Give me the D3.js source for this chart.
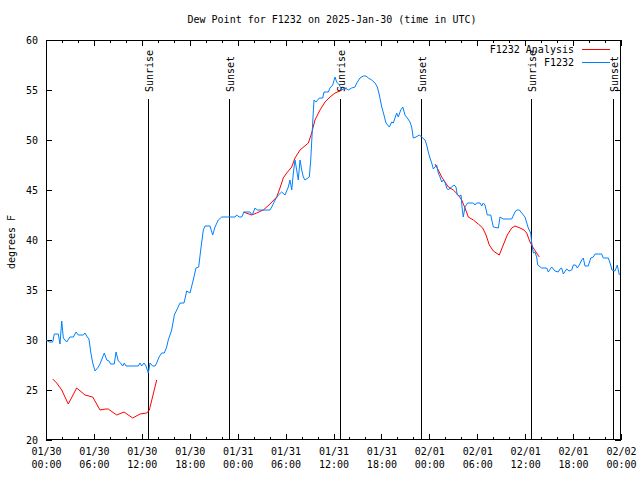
<!DOCTYPE html>
<html><head><meta charset="utf-8">
<script src="https://cdn.jsdelivr.net/npm/d3@7"></script>
<style>
html,body{margin:0;padding:0;background:#fff;}
svg{display:block;}
text{font-family:"DejaVu Sans Mono","Liberation Mono",monospace;font-size:10px;fill:#000;}
</style></head>
<body>
<svg id="chart" width="640" height="480"></svg>
<script>
// ---- data ----
const titleText = "Dew Point for F1232 on 2025-Jan-30 (time in UTC)";
const yLabel = "degrees F";
const startDate = "2025-01-30T00:00:00Z";
const spanHours = 72;
const yTicks = [20, 25, 30, 35, 40, 45, 50, 55, 60];
const majorTickHours = [0, 6, 12, 18, 24, 30, 36, 42, 48, 54, 60, 66, 72];
const minorTickHours = [2, 4, 8, 10, 14, 16, 20, 22, 26, 28, 32, 34, 38, 40, 44, 46, 50, 52, 56, 58, 62, 64, 68, 70];
const seriesNames = ["F1232 Analysis", "F1232"];
const seriesColors = ["#ff0000", "#0080ff"];

// observed (hours since start, deg F)
const obsHours = [0.0,0.41,0.84,1.04,1.54,1.75,1.97,2.17,2.59,3.0,3.42,3.76,4.04,4.67,4.88,5.17,5.38,5.6,5.85,6.14,6.55,6.76,7.05,7.3,7.6,7.89,8.1,8.55,8.77,9.05,9.35,9.6,9.8,10.02,11.56,11.77,11.98,12.27,12.52,12.81,13.02,13.36,13.65,13.86,14.15,14.49,14.81,15.11,15.31,15.74,16.07,16.37,16.78,17.28,17.62,18.03,18.44,18.78,19.12,19.37,19.7,19.91,20.54,20.87,21.16,21.58,22.0,23.67,23.88,24.17,24.51,24.79,25.54,25.83,26.17,26.46,28.05,28.39,28.68,29.09,29.51,29.93,30.34,30.55,30.77,30.97,31.18,31.39,31.59,31.81,32.02,32.22,32.43,32.97,33.15,33.4,33.56,33.81,34.22,34.65,34.81,35.35,35.56,35.9,36.19,36.4,36.73,37.03,37.44,37.85,38.28,38.69,38.91,39.32,39.73,40.07,40.36,40.78,41.2,41.49,41.74,42.04,42.32,42.57,42.99,43.29,43.49,43.7,43.91,44.11,44.42,44.67,44.95,45.24,45.58,45.79,45.99,46.33,46.74,47.04,47.46,47.67,47.87,48.08,48.3,48.5,48.71,48.92,49.12,49.34,49.55,49.75,49.96,50.17,50.38,50.59,50.8,51.09,51.34,51.5,51.75,51.97,52.09,52.25,52.47,52.8,53.51,53.72,53.93,54.35,54.56,54.76,54.97,55.26,55.69,56.01,56.64,56.85,57.26,58.31,58.73,58.94,59.27,59.57,59.98,60.39,60.69,60.82,61.02,61.23,61.44,61.57,62.07,62.7,62.9,63.32,63.74,64.15,64.36,64.57,64.78,65.2,65.49,65.83,66.03,66.3,66.53,66.78,67.08,67.28,67.49,67.9,68.21,68.53,68.75,69.58,69.78,70.41,70.71,70.87,71.25,71.54,71.79];
const obsValues = [30.0,29.8,29.8,30.6,30.6,29.6,31.9,30.2,29.8,30.3,30.3,30.8,30.5,30.5,30.7,30.3,30.1,28.8,27.7,26.9,27.3,27.6,28.2,28.7,28.0,27.9,27.6,27.6,28.8,27.9,27.7,27.4,27.7,27.4,27.4,27.7,27.4,27.7,27.4,26.7,27.7,27.4,27.4,27.7,28.3,28.7,28.7,29.3,30.0,31.0,32.5,33.0,33.7,33.7,34.9,34.7,36.0,37.2,37.3,39.0,41.0,41.4,41.4,40.5,41.3,42.0,42.3,42.3,42.5,42.3,42.3,42.8,42.8,42.5,43.2,43.0,43.0,43.5,44.0,44.5,44.8,44.5,45.3,46.0,45.0,46.7,48.0,47.0,46.0,48.0,47.0,46.3,46.0,46.3,48.0,51.8,54.0,53.8,54.2,54.2,54.8,54.8,55.2,55.5,56.3,55.8,55.5,55.0,55.2,55.0,55.2,55.3,55.7,56.2,56.4,56.4,56.2,56.0,55.7,55.3,54.5,53.3,52.5,51.7,51.3,51.8,51.7,52.2,52.7,52.3,53.0,53.3,52.5,52.2,51.8,51.3,50.2,50.3,50.5,50.3,50.0,49.5,48.8,48.2,47.7,47.1,47.3,47.5,46.7,46.3,45.8,46.0,45.8,45.2,45.0,45.2,45.3,45.5,45.3,44.5,44.4,44.5,43.3,42.3,43.3,43.7,43.7,43.5,43.7,43.7,43.4,43.7,43.5,42.5,42.5,41.3,41.2,42.3,42.1,42.1,42.8,43.0,43.0,42.7,42.3,41.2,40.7,39.7,38.7,38.8,38.3,37.5,37.2,37.2,36.8,37.3,36.9,36.8,37.1,37.2,36.6,37.1,36.9,37.0,37.5,37.5,37.2,37.5,38.0,38.2,37.4,37.4,38.2,38.3,38.6,38.6,38.2,38.2,37.5,37.0,36.9,37.5,36.5];

// analysis (hours since start, deg F); null = gap
const anaHours = [0.84,1.34,1.97,2.79,3.84,4.88,5.85,6.76,7.51,7.8,8.85,9.77,10.86,11.77,12.61,12.94,13.86,18.0,24.71,25.76,26.38,27.21,28.05,28.89,29.3,29.71,30.14,30.77,31.18,31.81,32.85,33.27,33.68,34.31,34.94,35.56,36.19,36.81,37.23,37.65,42.0,48.71,49.12,49.55,49.96,50.38,51.0,51.63,52.05,52.47,52.88,53.51,54.13,54.68,55.1,55.51,56.01,56.76,57.26,57.76,58.31,58.73,59.35,59.85,60.19,60.61,61.02,61.77];
const anaValues = [26.1,25.7,25.0,23.6,25.2,24.5,24.3,23.0,23.1,23.1,22.5,22.8,22.2,22.6,22.7,23.0,26.0,null,42.8,42.5,42.7,43.0,43.6,44.3,45.2,46.2,46.7,47.3,48.2,49.0,49.7,50.7,52.0,53.0,53.8,54.3,54.7,54.9,55.1,55.2,null,47.6,47.0,46.3,45.8,45.3,45.0,44.5,44.0,43.2,42.3,42.0,41.6,41.2,40.5,39.5,38.9,38.5,39.5,40.5,41.2,41.4,41.2,41.0,40.7,39.8,39.2,38.3];

// sunrise / sunset (hours since start)
const sunHours = [12.81, 22.96, 36.85, 46.99, 60.76, 71.04];
const sunLabels = ["Sunrise", "Sunset", "Sunrise", "Sunset", "Sunrise", "Sunset"];
const sunLineTop = 54.1; // deg F level where markers start

// ---- drawing ----
const t0 = new Date(startDate).getTime();
const toDate = h => new Date(t0 + h * 3600e3);
const W = 640, H = 480;
const m = {left: 46, right: 19, top: 40, bottom: 40};
const svg = d3.select("#chart");

const x = d3.scaleUtc().domain([toDate(0), toDate(spanHours)]).range([m.left, W - m.right]);
const y = d3.scaleLinear().domain([yTicks[0], yTicks[yTicks.length - 1]]).range([H - m.bottom, m.top]);

// title
svg.append("text").attr("x", 332).attr("y", 23).attr("text-anchor", "middle").text(titleText);
// y label
svg.append("text").attr("transform", "translate(15,242) rotate(-90)").attr("text-anchor", "middle").text(yLabel);

const plotW = W - m.right - m.left;
const fmtD = d3.utcFormat("%m/%d"), fmtT = d3.utcFormat("%H:%M");

// bottom axis
const gB = svg.append("g").attr("transform", `translate(0,${H - m.bottom})`).attr("shape-rendering", "crispEdges")
  .call(d3.axisBottom(x).tickValues(majorTickHours.map(toDate)).tickSize(-6).tickPadding(10).tickFormat(fmtD));
gB.selectAll(".tick text").each(function(d) {
  const t = d3.select(this);
  t.text(null);
  t.append("tspan").attr("x", 0).attr("dy", "0.71em").text(fmtD(d));
  t.append("tspan").attr("x", 0).attr("dy", "12.5px").text(fmtT(d));
}).attr("dy", null).attr("y", 8);
svg.append("g").attr("transform", `translate(0,${H - m.bottom})`).attr("shape-rendering", "crispEdges")
  .call(d3.axisBottom(x).tickValues(minorTickHours.map(toDate)).tickSize(-3).tickFormat(""));
// top axis
svg.append("g").attr("transform", `translate(0,${m.top})`).attr("shape-rendering", "crispEdges")
  .call(d3.axisTop(x).tickValues(majorTickHours.map(toDate)).tickSize(-6).tickFormat(""));
svg.append("g").attr("transform", `translate(0,${m.top})`).attr("shape-rendering", "crispEdges")
  .call(d3.axisTop(x).tickValues(minorTickHours.map(toDate)).tickSize(-3).tickFormat(""));
// left axis
svg.append("g").attr("transform", `translate(${m.left},0)`).attr("shape-rendering", "crispEdges")
  .call(d3.axisLeft(y).tickValues(yTicks).tickSize(-6).tickPadding(8).tickFormat(d3.format("d")));
// right axis
svg.append("g").attr("transform", `translate(${W - m.right},0)`).attr("shape-rendering", "crispEdges")
  .call(d3.axisRight(y).tickValues(yTicks).tickSize(-6).tickFormat(""));

svg.selectAll(".domain").remove();
svg.selectAll(".tick line").attr("stroke", "#000");
svg.selectAll(".tick text").attr("font-family", null).attr("font-size", null).attr("fill", "#000");

// frame
svg.append("rect").attr("x", m.left + 0.5).attr("y", m.top + 0.5)
  .attr("width", plotW - 1).attr("height", H - m.bottom - m.top - 1)
  .attr("fill", "none").attr("stroke", "#000").attr("shape-rendering", "crispEdges");

// sunrise / sunset markers
sunHours.forEach((h, i) => {
  const lx = Math.round(x(toDate(h))) + 0.5;
  svg.append("line").attr("x1", lx).attr("x2", lx).attr("y1", y(sunLineTop)).attr("y2", y(yTicks[0]))
    .attr("stroke", "#000").attr("stroke-width", 1).attr("shape-rendering", "crispEdges");
  svg.append("text").attr("transform", `translate(${lx + 4.5},${y(sunLineTop) - 7}) rotate(-90)`)
    .attr("text-anchor", "start").text(sunLabels[i]);
});

// series lines
const line = d3.line().defined(d => d[1] != null).x(d => x(toDate(d[0]))).y(d => y(d[1]));
const anaData = anaHours.map((h, i) => [h, anaValues[i]]);
const obsData = obsHours.map((h, i) => [h, obsValues[i]]);
svg.append("path").datum(anaData).attr("d", line).attr("fill", "none").attr("stroke", seriesColors[0]).attr("stroke-width", 1);
svg.append("path").datum(obsData).attr("d", line).attr("fill", "none").attr("stroke", seriesColors[1]).attr("stroke-width", 1);

// legend
const legY = [49.5, 62.5];
seriesNames.forEach((n, i) => {
  svg.append("text").attr("x", 574).attr("y", legY[i] + 3.5).attr("text-anchor", "end").text(n);
  svg.append("line").attr("x1", 582).attr("x2", 610).attr("y1", legY[i]).attr("y2", legY[i])
    .attr("stroke", seriesColors[i]).attr("stroke-width", 1).attr("shape-rendering", "crispEdges");
});
</script>
</body></html>
